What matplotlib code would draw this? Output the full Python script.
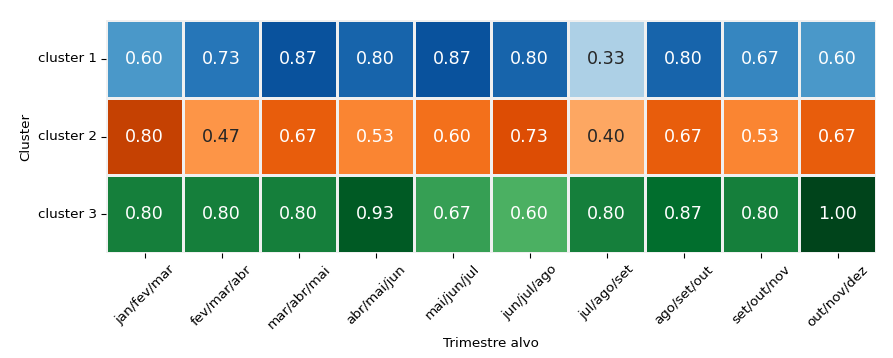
import numpy as np
import matplotlib
matplotlib.use("Agg")
import matplotlib.pyplot as plt
import seaborn as sns

trimestres = ["jan/fev/mar", "fev/mar/abr", "mar/abr/mai", "abr/mai/jun", "mai/jun/jul",
              "jun/jul/ago", "jul/ago/set", "ago/set/out", "set/out/nov", "out/nov/dez"]
clusters = ["cluster 1", "cluster 2", "cluster 3"]
c1 = [0.60, 0.73, 0.87, 0.80, 0.87, 0.80, 0.33, 0.80, 0.67, 0.60]
c2 = [0.80, 0.47, 0.67, 0.53, 0.60, 0.73, 0.40, 0.67, 0.53, 0.67]
c3 = [0.80, 0.80, 0.80, 0.93, 0.67, 0.60, 0.80, 0.87, 0.80, 1.00]
cmaps = ["Blues", "Oranges", "Greens"]

dados = np.array([c1, c2, c3])

fig = plt.figure(figsize=(8.93, 3.58), dpi=100)
ax = fig.add_axes([0.119, 0.293, 0.862, 0.651])
for i in range(3):
    mask = np.ones(dados.shape, dtype=bool)
    mask[i, :] = False
    sns.heatmap(dados, mask=mask, cmap=cmaps[i], vmin=0, vmax=1, annot=True, fmt=".2f",
                annot_kws={"size": 12.6}, linewidths=0.8, linecolor="#f0f0f0", cbar=False,
                xticklabels=trimestres, yticklabels=clusters, ax=ax)
ax.set_xticklabels(trimestres, rotation=45, fontsize=9.7)
ax.set_yticklabels(clusters, rotation=0, fontsize=9.7)
ax.set_xlabel("Trimestre alvo", fontsize=9.7)
ax.set_ylabel("Cluster", fontsize=9.7)
fig.savefig("out.png", dpi=100)
